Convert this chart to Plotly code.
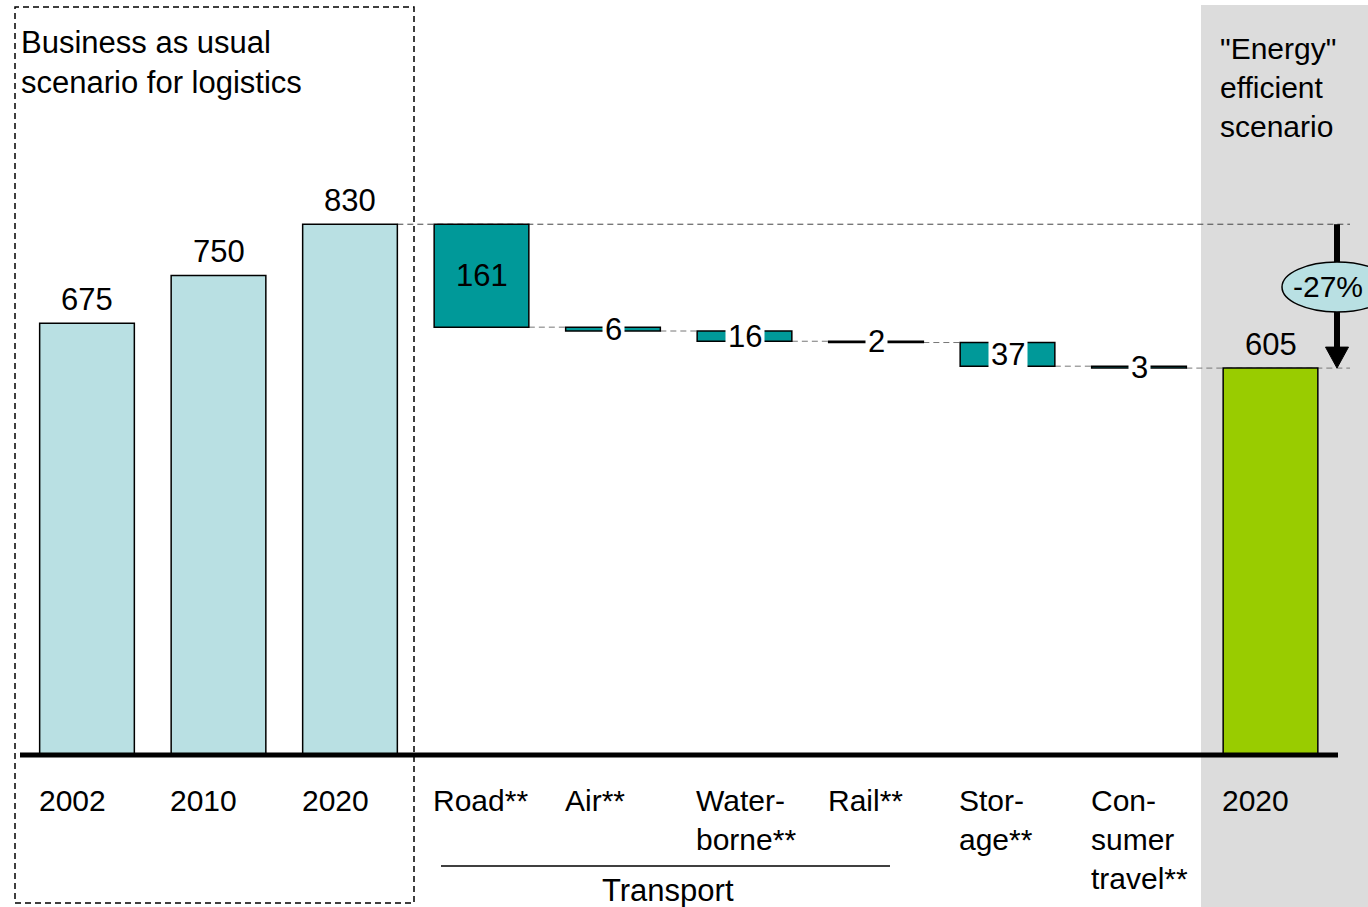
import plotly.graph_objects as go

# ---- data ----
categories = ["2002", "2010", "2020", "Road**", "Air**", "Water-<br>borne**",
              "Rail**", "Stor-<br>age**", "Con-<br>sumer<br>travel**", "2020"]
bau_values = [675, 750, 830]          # business as usual, 2002 / 2010 / 2020
savings = [161, 6, 16, 2, 37, 3]      # reductions per area
efficient_2020 = 605                  # "energy" efficient scenario
change_label = "-27%"

W, H = 1368, 907
FONT = "Liberation Sans, Arial, sans-serif"
FS = 31          # single-line labels
FS_MULTI = 30    # wrapped labels
LIGHT_BLUE = "#B9E0E3"
TEAL = "#009999"
GREEN = "#99CC00"
BAR_W = 0.72
X_STEP = 131.5       # pixels per category
X_FIRST = 87         # pixel centre of the first category
Y_BASE = 755         # pixel of the zero line
Y_SCALE = 0.6395     # pixels per unit


def px_x(p):
    return p / W


def px_y(p):
    return 1 - p / H


n_bau = len(bau_values)
n_steps = len(savings)
x_bau = list(range(n_bau))
x_steps = list(range(n_bau, n_bau + n_steps))
x_final = n_bau + n_steps

# waterfall bases from the running level
levels = [bau_values[-1]]
for s in savings:
    levels.append(levels[-1] - s)
step_bases = levels[1:]

fig = go.Figure()
line_style = dict(color="black", width=1.5)
fig.add_trace(go.Bar(x=x_bau, y=bau_values, width=BAR_W,
                     marker=dict(color=LIGHT_BLUE, line=line_style)))
fig.add_trace(go.Bar(x=x_steps, y=savings, base=step_bases, width=BAR_W,
                     marker=dict(color=TEAL, line=line_style)))
fig.add_trace(go.Bar(x=[x_final], y=[efficient_2020], width=BAR_W,
                     marker=dict(color=GREEN, line=line_style)))

shapes = []
annotations = []

# grey panel behind the efficient scenario
shapes.append(dict(type="rect", xref="paper", yref="paper", layer="below",
                   x0=px_x(1201), x1=1.0, y0=px_y(907), y1=px_y(5),
                   fillcolor="#DCDCDC", line=dict(width=0)))
# dashed frame around business as usual
shapes.append(dict(type="rect", xref="paper", yref="paper", layer="above",
                   x0=px_x(15), x1=px_x(414), y0=px_y(903), y1=px_y(7),
                   line=dict(color="black", width=1.5, dash="6px,4px")))

# connectors
x_end = (1350 - X_FIRST) / X_STEP
shapes.append(dict(type="line", xref="x", yref="y", layer="below",
                   x0=x_bau[-1] + BAR_W / 2, x1=x_end, y0=levels[0], y1=levels[0],
                   line=dict(color="#444444", width=1, dash="6px,4px")))
for i, xs in enumerate(x_steps):
    x1 = xs + 1 - BAR_W / 2 if i < n_steps - 1 else x_end
    shapes.append(dict(type="line", xref="x", yref="y", layer="below",
                       x0=xs + BAR_W / 2, x1=x1, y0=step_bases[i], y1=step_bases[i],
                       line=dict(color="#777777", width=1, dash="6px,4px")))

# zero line
shapes.append(dict(type="line", xref="paper", yref="y", layer="above",
                   x0=px_x(20), x1=px_x(1338), y0=0, y1=0,
                   line=dict(color="black", width=5)))

# change arrow
x_arrow = (1337 - X_FIRST) / X_STEP
head_h = 21 / Y_SCALE
head_w = 11.5 / X_STEP
shapes.append(dict(type="line", xref="x", yref="y",
                   x0=x_arrow, x1=x_arrow, y0=levels[0], y1=efficient_2020 + head_h,
                   line=dict(color="black", width=6)))
shapes.append(dict(type="path", xref="x", yref="y",
                   path=f"M {x_arrow - head_w} {efficient_2020 + head_h} "
                        f"L {x_arrow + head_w} {efficient_2020 + head_h} "
                        f"L {x_arrow} {efficient_2020} Z",
                   fillcolor="black", line=dict(color="black", width=1)))
shapes.append(dict(type="circle", xref="paper", yref="paper",
                   x0=px_x(1282), x1=px_x(1392), y0=px_y(312), y1=px_y(262),
                   fillcolor=LIGHT_BLUE, line=dict(color="black", width=1.5)))
annotations.append(dict(xref="paper", yref="paper", x=px_x(1291), y=px_y(287),
                        xanchor="left", yanchor="middle", font=dict(size=FS_MULTI),
                        text=change_label, showarrow=False))

# value labels above totals
for x, v in zip(x_bau, bau_values):
    annotations.append(dict(x=x, y=v, text=str(v), showarrow=False,
                            xanchor="center", yanchor="bottom", yshift=4))
annotations.append(dict(x=x_final, y=efficient_2020, text=str(efficient_2020),
                        showarrow=False, xanchor="center", yanchor="bottom", yshift=4))

# step labels
for i, (xs, s) in enumerate(zip(x_steps, savings)):
    mid = step_bases[i] + s / 2
    if i == 0:
        annotations.append(dict(x=xs, y=mid, text=str(s), showarrow=False,
                                xanchor="center", yanchor="middle"))
    else:
        annotations.append(dict(x=xs, y=mid, text=str(s), showarrow=False,
                                xanchor="center", yanchor="middle",
                                bgcolor="white", borderpad=2))

# category labels
for i, c in enumerate(categories):
    annotations.append(dict(x=i - BAR_W / 2, xanchor="left", xshift=-3,
                            yref="paper", y=px_y(782), yanchor="top", align="left",
                            text=c, showarrow=False, font=dict(size=FS_MULTI)))

# transport group
shapes.append(dict(type="line", xref="paper", yref="paper",
                   x0=px_x(441), x1=px_x(890), y0=px_y(866), y1=px_y(866),
                   line=dict(color="black", width=1.5)))
annotations.append(dict(xref="paper", yref="paper", x=px_x(668), y=px_y(890),
                        xanchor="center", yanchor="middle",
                        text="Transport", showarrow=False))

# scenario titles
annotations.append(dict(xref="paper", yref="paper", x=px_x(19), y=px_y(23),
                        xanchor="left", yanchor="top", align="left",
                        text="Business as usual<br>scenario for logistics",
                        showarrow=False))
annotations.append(dict(xref="paper", yref="paper", x=px_x(1218), y=px_y(30),
                        xanchor="left", yanchor="top", align="left",
                        text="\"Energy\"<br>efficient<br>scenario",
                        showarrow=False, font=dict(size=FS_MULTI)))

y_low = -(H - Y_BASE) / Y_SCALE
y_high = Y_BASE / Y_SCALE
x_low = -X_FIRST / X_STEP
x_high = (W - X_FIRST) / X_STEP

fig.update_layout(
    width=W, height=H,
    margin=dict(l=0, r=0, t=0, b=0),
    paper_bgcolor="white", plot_bgcolor="rgba(0,0,0,0)",
    showlegend=False, barmode="overlay",
    font=dict(family=FONT, color="black", size=FS),
    xaxis=dict(range=[x_low, x_high], visible=False, fixedrange=True),
    yaxis=dict(range=[y_low, y_high], visible=False, fixedrange=True),
    shapes=shapes, annotations=annotations,
)

fig.write_html("out.html")
